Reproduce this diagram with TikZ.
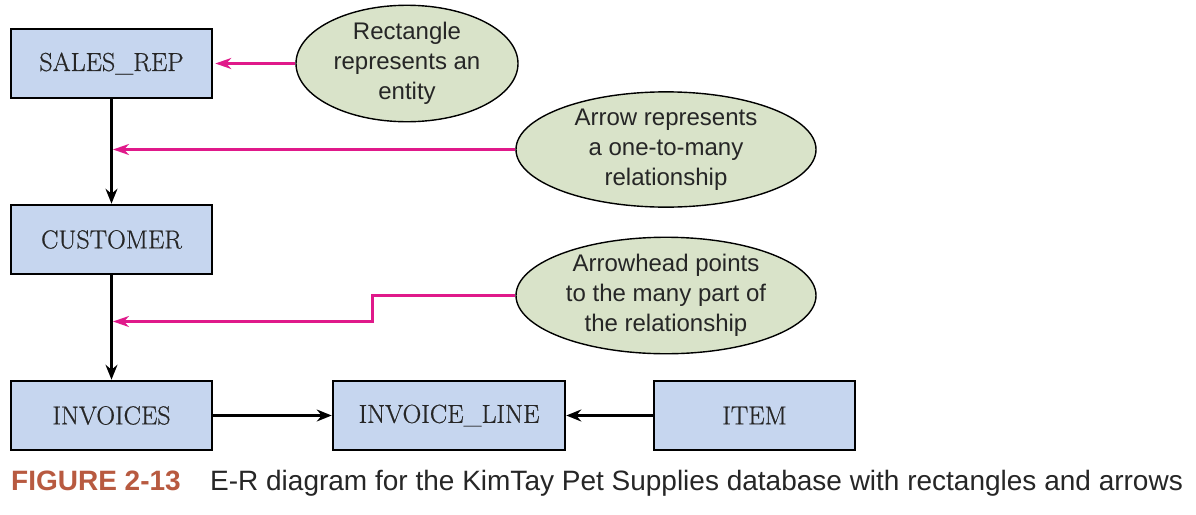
\documentclass[tikz,border=0pt]{standalone}
\usepackage{fontspec}
\setsansfont{Liberation Sans}
\newfontfamily\entfont{Latin Modern Roman}[FakeBold=0.7]
\usetikzlibrary{arrows.meta,shapes.geometric}
\definecolor{boxblue}{HTML}{C6D6EF}
\definecolor{ellgreen}{HTML}{D9E3C9}
\definecolor{pinkline}{HTML}{E0198A}
\definecolor{capred}{HTML}{B85A40}
\definecolor{txt}{HTML}{262626}
\begin{document}
\begin{tikzpicture}[x=1pt,y=-1pt,
  entity/.style={draw=black,line width=2.6pt,fill=boxblue,minimum width=201pt,minimum height=69pt,inner sep=0pt,font=\entfont\fontsize{26}{30}\selectfont,text=txt},
  note/.style={ellipse,draw=black,line width=1.4pt,fill=ellgreen,inner sep=0pt,align=center,font=\sffamily\fontsize{24}{30}\selectfont,text=txt},
  rel/.style={line width=2.2pt,-{Stealth[length=15pt,width=12pt,inset=5pt]}},
  pinkarrow/.style={draw=pinkline,line width=2.2pt,-{Stealth[length=16pt,width=11pt,inset=5pt]}}]
\useasboundingbox (0,0) rectangle (1196,514);
\fill[white] (0,0) rectangle (1196,514);
\node[entity] (salesrep) at (111.5,63.5) {SALES\_REP};
\node[entity] (customer) at (111.5,239.5) {CUSTOMER};
\node[entity] (invoices) at (111.5,415.5) {INVOICES};
\node[entity,minimum width=232pt] (invline) at (449,415.5) {INVOICE\_LINE};
\node[entity] (item) at (754.5,415.5) {ITEM};
\node[note,minimum width=222pt,minimum height=107pt] (e1) at (407,63.5) {Rectangle\\represents an\\entity};
\node[note,minimum width=300pt,minimum height=112pt] (e2) at (666,149.5) {Arrow represents\\a one-to-many\\relationship};
\node[note,minimum width=300pt,minimum height=112pt] (e3) at (666,295.5) {Arrowhead points\\to the many part of\\the relationship};
\draw[rel] (salesrep) -- (customer);
\draw[rel] (customer) -- (invoices);
\draw[rel] (invoices) -- (invline);
\draw[rel] (item) -- (invline);
\coordinate (p2) at (113,149.5);
\coordinate (bend) at (372.5,295.5);
\coordinate (p3) at (113,321.5);
\draw[pinkarrow] (e1.west) -- ([xshift=2pt]salesrep.east);
\draw[pinkarrow] (e2.west) -- (p2);
\draw[pinkarrow] (e3.west) -- (bend) -- (bend |- p3) -- (p3);
\node[anchor=base west,inner sep=0pt,font=\sffamily\bfseries\fontsize{28}{32}\selectfont,text=capred] (fig) at (11,490) {FIGURE 2-13};
\node[anchor=base west,inner sep=0pt,font=\sffamily\fontsize{28}{32}\selectfont,text=txt] (cap) at (210,490) {E-R diagram for the KimTay Pet Supplies database with rectangles and arrows};
\end{tikzpicture}
\end{document}
